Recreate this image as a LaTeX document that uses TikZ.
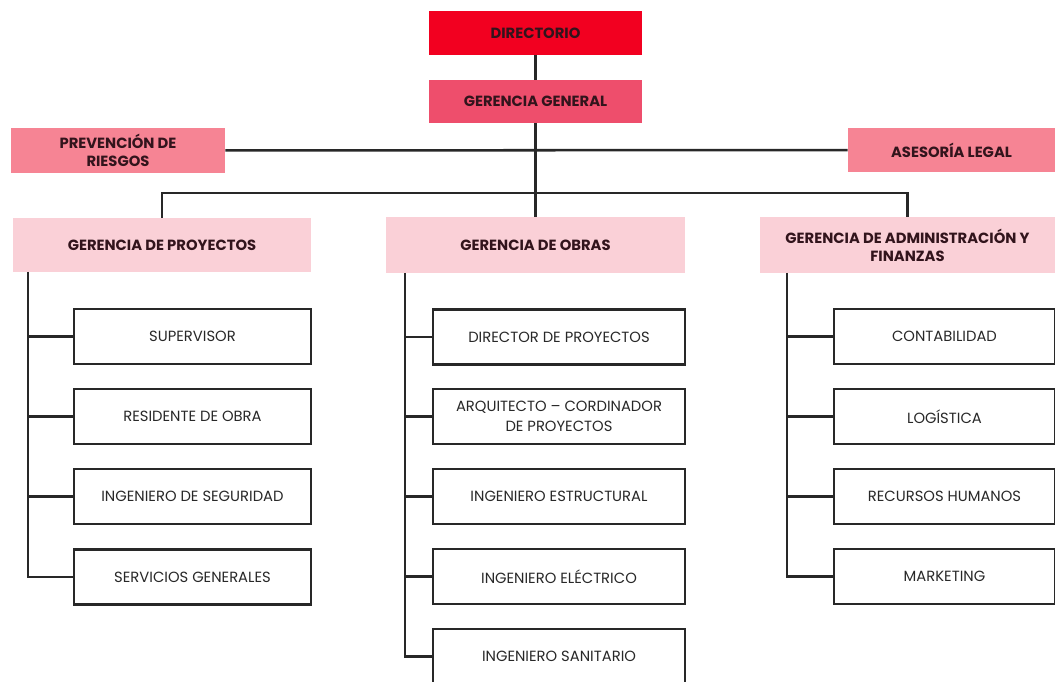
\documentclass[tikz,border=0pt]{standalone}
\usepackage{fontspec}
\setmainfont{Poppins}
\usetikzlibrary{positioning}
\definecolor{dirred}{RGB}{242,0,32}
\definecolor{ggpink}{RGB}{238,78,108}
\definecolor{staffpink}{RGB}{246,132,148}
\definecolor{mgrpink}{RGB}{250,208,215}
\definecolor{linegray}{RGB}{40,40,40}
\definecolor{headtext}{RGB}{50,20,28}
\tikzset{
  head/.style={fill=#1, text=headtext, align=center, inner sep=2pt,
    font=\fontsize{10.5}{13}\selectfont\bfseries},
  unit/.style={draw=linegray, line width=1.8pt, fill=white, text=linegray, align=center,
    minimum height=1.375cm, inner sep=2pt, font=\fontsize{10.5}{14}\selectfont},
  link/.style={draw=linegray, line width=1.8pt}
}
\begin{document}
\begin{tikzpicture}[x=0.025cm, y=-0.025cm]
\useasboundingbox (0,0) rectangle (1055,682);
% top of the chart
\node[head=dirred, minimum width=5.325cm, minimum height=1.1cm] (dir) at (535.5,33) {DIRECTORIO};
\node[head=ggpink, minimum width=5.325cm, minimum height=1.075cm] (gg) at (535.5,101.5) {GERENCIA GENERAL};
\node[head=staffpink, minimum width=5.35cm, minimum height=1.125cm] (prev) at (118,150.5) {PREVENCIÓN DE\\RIESGOS};
\node[head=staffpink, minimum width=5.175cm, minimum height=1.1cm] (ases) at (951.5,150) {ASESORÍA LEGAL};
% managers
\node[head=mgrpink, minimum width=7.45cm, minimum height=1.35cm] (gp) at (162,245) {GERENCIA DE PROYECTOS};
\node[head=mgrpink, minimum width=7.475cm, minimum height=1.4cm] (go) at (535.5,245) {GERENCIA DE OBRAS};
\node[head=mgrpink, minimum width=7.375cm, minimum height=1.4cm] (gaf) at (907.5,245) {GERENCIA DE ADMINISTRACIÓN Y\\FINANZAS};
\coordinate (bus) at (535.5,193);
\draw[link] (dir) -- (gg);
\draw[link] (gg) -- (go);
\draw[link] (prev) -- (ases);
\draw[link] (gp.north) |- (bus) -| (gaf.north);
% left column
\node[unit, minimum width=5.925cm] (p1) at (192.5,336.5) {SUPERVISOR};
\node[unit, minimum width=5.925cm] (p2) at (192.5,416.5) {RESIDENTE DE OBRA};
\node[unit, minimum width=5.925cm] (p3) at (192.5,496.5) {INGENIERO DE SEGURIDAD};
\node[unit, minimum width=5.925cm] (p4) at (192.5,577) {SERVICIOS GENERALES};
\coordinate (cp) at (28,272);
\draw[link] (cp) |- (p4.west);
\foreach \n in {p1,p2,p3}
  \draw[link] (\n.west) -- (\n.west -| cp);
% middle column
\node[unit, minimum width=6.3cm] (o1) at (559,337) {DIRECTOR DE PROYECTOS};
\node[unit, minimum width=6.3cm] (o2) at (559,416.5) {ARQUITECTO – CORDINADOR\\DE PROYECTOS};
\node[unit, minimum width=6.3cm] (o3) at (559,496.5) {INGENIERO ESTRUCTURAL};
\node[unit, minimum width=6.3cm] (o4) at (559,576.5) {INGENIERO ELÉCTRICO};
\node[unit, minimum width=6.3cm] (o5) at (559,656.5) {INGENIERO SANITARIO};
\coordinate (co) at (405,273);
\draw[link] (co) |- (o5.west);
\foreach \n in {o1,o2,o3,o4}
  \draw[link] (\n.west) -- (\n.west -| co);
% right column
\node[unit, minimum width=5.525cm] (a1) at (944.5,336.5) {CONTABILIDAD};
\node[unit, minimum width=5.525cm] (a2) at (944.5,416.5) {LOGÍSTICA};
\node[unit, minimum width=5.525cm] (a3) at (944.5,496.5) {RECURSOS HUMANOS};
\node[unit, minimum width=5.525cm] (a4) at (944.5,576.5) {MARKETING};
\coordinate (ca) at (787,273);
\draw[link] (ca) |- (a4.west);
\foreach \n in {a1,a2,a3}
  \draw[link] (\n.west) -- (\n.west -| ca);
\end{tikzpicture}
\end{document}
